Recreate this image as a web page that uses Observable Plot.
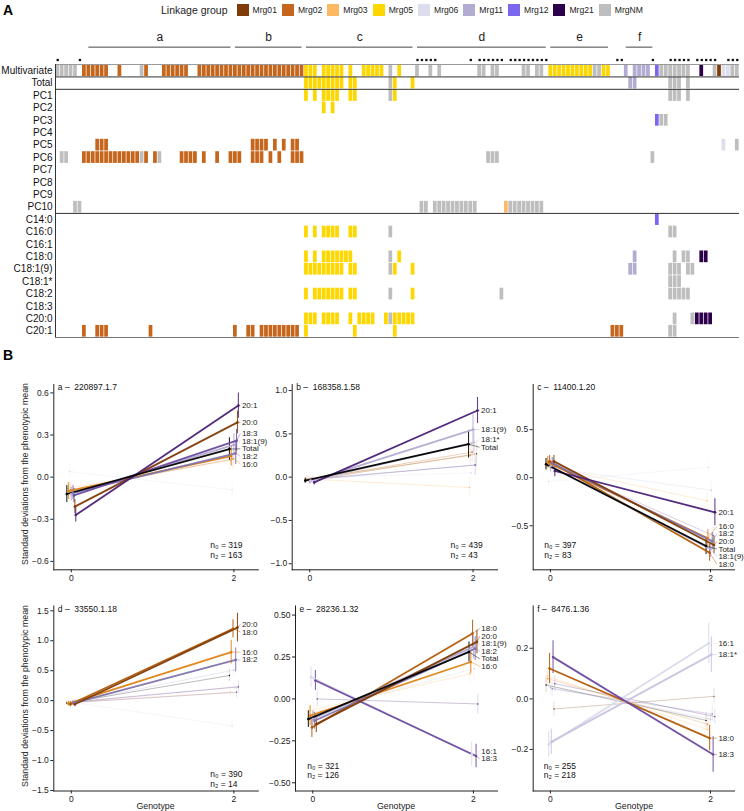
<!DOCTYPE html>
<html><head><meta charset="utf-8">
<script src="https://cdn.jsdelivr.net/npm/d3@7"></script>
<script src="https://cdn.jsdelivr.net/npm/@observablehq/plot@0.6"></script>
<style>
body{margin:0;background:#fff;font-family:"Liberation Sans",Arial,Helvetica,sans-serif;}
#root{position:relative;width:744px;height:811px;overflow:hidden;background:#fff;}
.abs{position:absolute;white-space:nowrap;color:#222;}
</style></head><body><div id="root"></div>
<script>
// ---------- Panel A data ----------
const groups = ["Mrg01","Mrg02","Mrg03","Mrg05","Mrg06","Mrg11","Mrg12","Mrg21","MrgNM"];
const groupColors = ["#7f3b08","#c6661c","#fdb863","#ffd700","#dcdeed","#b2abd2","#7b68ee","#2d004b","#bebebe"];
const rowNames = ["Multivariate","Total","PC1","PC2","PC3","PC4","PC5","PC6","PC7","PC8","PC9","PC10",
  "C14:0","C16:0","C16:1","C18:0","C18:1(9)","C18:1*","C18:2","C18:3","C20:0","C20:1"];
const nCols = 154;
// runs: [first column, last column, linkage group]
const runsMultivariate = [[0,4,"MrgNM"],[6,11,"Mrg02"],[14,14,"Mrg02"],[19,19,"MrgNM"],[20,20,"Mrg02"],[24,29,"Mrg02"],[32,55,"Mrg02"],
  [56,58,"Mrg05"],[60,64,"Mrg05"],[66,66,"Mrg05"],[69,73,"Mrg05"],[75,75,"MrgNM"],[77,77,"Mrg05"],[81,81,"MrgNM"],[84,84,"MrgNM"],[86,86,"MrgNM"],
  [95,96,"MrgNM"],[98,99,"MrgNM"],[105,106,"MrgNM"],[108,109,"MrgNM"],[111,120,"Mrg05"],[121,122,"MrgNM"],[123,124,"Mrg05"],
  [128,128,"Mrg11"],[130,133,"Mrg11"],[135,135,"Mrg12"],[136,142,"MrgNM"],[145,145,"Mrg21"],[148,148,"MrgNM"],[149,149,"Mrg01"],[150,151,"Mrg06"],[152,153,"MrgNM"]];
const runsTotal = [[56,64,"Mrg05"],[66,67,"Mrg05"],[75,75,"MrgNM"],[76,76,"Mrg05"],[80,80,"Mrg05"],[129,130,"Mrg11"],[138,140,"MrgNM"],[142,142,"MrgNM"]];
const runsPC1 = [[56,56,"Mrg05"],[58,58,"Mrg05"],[60,63,"Mrg05"],[66,67,"Mrg05"],[75,75,"MrgNM"],[76,76,"Mrg05"],[138,140,"MrgNM"],[142,142,"MrgNM"]];
const runsPC2 = [[60,60,"Mrg05"],[62,62,"Mrg05"]];
const runsPC3 = [[135,135,"Mrg12"],[136,137,"MrgNM"]];
const runsPC4 = [];
const runsPC5 = [[9,11,"Mrg02"],[44,47,"Mrg02"],[49,49,"Mrg02"],[51,51,"Mrg02"],[53,54,"Mrg02"],[150,150,"Mrg06"],[153,153,"MrgNM"]];
const runsPC6 = [[1,2,"MrgNM"],[6,18,"Mrg02"],[19,19,"MrgNM"],[20,20,"Mrg02"],[22,22,"Mrg02"],[23,23,"MrgNM"],[28,31,"Mrg02"],[33,33,"Mrg02"],
  [36,36,"Mrg02"],[39,41,"Mrg02"],[44,46,"Mrg02"],[48,48,"Mrg02"],[50,50,"Mrg02"],[53,55,"Mrg02"],[97,99,"MrgNM"],[134,134,"MrgNM"]];
const runsPC7 = [];
const runsPC8 = [];
const runsPC9 = [];
const runsPC10 = [[4,5,"MrgNM"],[82,83,"MrgNM"],[85,94,"MrgNM"],[101,101,"Mrg03"],[102,109,"MrgNM"]];
const runsC14_0 = [[135,135,"Mrg12"]];
const runsC16_0 = [[56,56,"Mrg05"],[58,58,"Mrg05"],[60,63,"Mrg05"],[66,67,"Mrg05"],[75,75,"MrgNM"],[138,139,"MrgNM"]];
const runsC16_1 = [];
const runsC18_0 = [[56,56,"Mrg05"],[58,58,"Mrg05"],[60,66,"Mrg05"],[75,75,"MrgNM"],[77,77,"Mrg05"],[130,130,"Mrg11"],[139,139,"MrgNM"],[141,142,"MrgNM"],[145,146,"Mrg21"]];
const runsC18_1_9 = [[56,64,"Mrg05"],[66,67,"Mrg05"],[75,75,"MrgNM"],[76,76,"Mrg05"],[80,80,"Mrg05"],[129,130,"Mrg11"],[138,140,"MrgNM"],[142,143,"MrgNM"]];
const runsC18_1s = [[138,140,"MrgNM"]];
const runsC18_2 = [[56,56,"Mrg05"],[58,64,"Mrg05"],[66,67,"Mrg05"],[75,75,"MrgNM"],[80,80,"Mrg05"],[100,100,"MrgNM"],[138,142,"MrgNM"]];
const runsC18_3 = [];
const runsC20_0 = [[56,58,"Mrg05"],[60,63,"Mrg05"],[66,66,"Mrg05"],[68,71,"Mrg05"],[74,74,"Mrg05"],[75,75,"MrgNM"],[76,80,"Mrg05"],[139,139,"MrgNM"],[143,143,"MrgNM"],[144,147,"Mrg21"]];
const runsC20_1 = [[6,6,"Mrg02"],[9,11,"Mrg02"],[21,21,"Mrg02"],[40,40,"Mrg02"],[43,44,"Mrg02"],[46,54,"Mrg02"],[56,56,"Mrg05"],[67,67,"Mrg05"],[76,76,"Mrg05"],[125,127,"Mrg02"],[138,139,"MrgNM"]];
const dotCols = [0,5,81,82,83,84,85,93,95,96,97,98,99,100,102,103,104,105,106,107,108,109,110,126,127,134,138,139,140,141,142,144,145,146,147,148,151,152,153];
const regionNames = ["a","b","c","d","e","f"];
const regionStart = [7,40,56,81,111,128];
const regionEnd = [39,55,80,110,124,134];

// ---------- Panel B data ----------
const series = ["Total","C14:0","C16:0","C16:1","C18:0","C18:1(9)","C18:1*","C18:2","C18:3","C20:0","C20:1"];
const seriesLabels = ["Total","14:0","16:0","16:1","18:0","18:1(9)","18:1*","18:2","18:3","20:0","20:1"];
const seriesColors = ["#000000","#fdb863","#e08214","#d8daeb","#b35806","#b2abd2","#c9c3e0","#8073ac","#6b4a9e","#7f3b08","#4a1f75"];

const panelA_title = "a –  220897.1.7";
const panelA_n = [319, 163];
const panelA_g0 = [-0.12,-0.08,-0.10,0.04,-0.09,-0.12,-0.10,-0.11,-0.13,-0.21,-0.27];
const panelA_g2 = [0.20,0.12,0.15,-0.09,0.13,0.23,0.17,0.17,0.26,0.39,0.51];
const panelA_se0 = [0.06,0.05,0.06,0.05,0.05,0.05,0.05,0.05,0.05,0.05,0.05];
const panelA_se2 = [0.08,0.07,0.07,0.07,0.07,0.08,0.07,0.08,0.08,0.08,0.09];
const panelA_sig = ["Total","C16:0","C18:1(9)","C18:2","C18:3","C20:0","C20:1"];

const panelB_title = "b –  168358.1.58";
const panelB_n = [439, 43];
const panelB_g0 = [-0.04,-0.02,-0.02,-0.01,-0.03,-0.05,-0.04,-0.03,-0.02,-0.03,-0.06];
const panelB_g2 = [0.38,-0.12,0.25,0.05,0.29,0.55,0.40,0.14,0.14,0.27,0.77];
const panelB_se0 = [0.03,0.03,0.03,0.03,0.03,0.03,0.03,0.03,0.03,0.03,0.03];
const panelB_se2 = [0.16,0.12,0.12,0.12,0.12,0.17,0.15,0.12,0.12,0.12,0.15];
const panelB_sig = ["Total","C18:1(9)","C18:1*","C20:1"];

const panelC_title = "c –  11400.1.20";
const panelC_n = [397, 83];
const panelC_g0 = [0.14,0.12,0.16,-0.04,0.17,0.12,0.10,0.15,0.13,0.17,0.07];
const panelC_g2 = [-0.71,-0.24,-0.63,0.11,-0.78,-0.74,-0.13,-0.66,-0.60,-0.70,-0.36];
const panelC_se0 = [0.06,0.06,0.06,0.06,0.06,0.06,0.06,0.06,0.06,0.06,0.06];
const panelC_se2 = [0.09,0.09,0.09,0.09,0.09,0.09,0.09,0.09,0.09,0.09,0.14];
const panelC_sig = ["Total","C16:0","C18:0","C18:1(9)","C18:2","C20:0","C20:1"];

const panelD_title = "d –  33550.1.18";
const panelD_n = [390, 14];
const panelD_g0 = [-0.04,-0.03,-0.05,-0.02,-0.06,-0.03,-0.02,-0.04,-0.03,-0.06,-0.02];
const panelD_g2 = [0.42,0.14,0.81,-0.42,1.20,0.51,0.23,0.68,0.14,1.22,0.23];
const panelD_se0 = [0.04,0.04,0.04,0.04,0.04,0.04,0.04,0.04,0.04,0.04,0.04];
const panelD_se2 = [0.10,0.10,0.20,0.10,0.15,0.10,0.10,0.20,0.10,0.24,0.10];
const panelD_sig = ["C16:0","C18:0","C18:2","C20:0"];

const panelE_title = "e –  28236.1.32";
const panelE_n = [321, 126];
const panelE_g0 = [-0.12,-0.07,-0.10,0.13,-0.17,-0.12,-0.08,-0.13,0.11,-0.15,0.00];
const panelE_g2 = [0.28,0.15,0.22,-0.33,0.39,0.31,0.18,0.30,-0.34,0.34,-0.03];
const panelE_se0 = [0.05,0.05,0.06,0.06,0.06,0.05,0.05,0.05,0.06,0.05,0.05];
const panelE_se2 = [0.06,0.06,0.07,0.07,0.08,0.07,0.06,0.07,0.07,0.07,0.06];
const panelE_sig = ["Total","C16:0","C16:1","C18:0","C18:1(9)","C18:2","C18:3","C20:0"];

const panelF_title = "f –  8476.1.36";
const panelF_n = [255, 218];
const panelF_g0 = [0.055,0.09,0.08,-0.18,0.12,0.045,-0.17,0.04,0.165,-0.04,0.06];
const panelF_g2 = [-0.085,-0.12,-0.10,0.22,-0.155,-0.08,0.175,-0.06,-0.22,0.01,-0.07];
const panelF_se0 = [0.03,0.03,0.03,0.05,0.06,0.03,0.05,0.03,0.065,0.03,0.03];
const panelF_se2 = [0.03,0.03,0.03,0.08,0.05,0.03,0.07,0.03,0.07,0.03,0.03];
const panelF_sig = ["C16:1","C18:0","C18:1*","C18:3"];

// ---------- helpers ----------
const root = document.getElementById("root");
const FONT = '"Liberation Sans", Arial, Helvetica, sans-serif';
function place(el, left, top) {
  el.style.position = "absolute"; el.style.left = left + "px"; el.style.top = top + "px";
  root.appendChild(el); return el;
}
function label(text, left, top, css) {
  const d = document.createElement("div"); d.className = "abs"; d.textContent = text;
  d.style.cssText += css || ""; place(d, left, top); return d;
}

// ---------- Panel A ----------
label("A", 3, 2, "font-weight:bold;font-size:14px;color:#000;");
const legend = document.createElement("div");
legend.style.cssText = "display:flex;align-items:center;font-size:8.6px;color:#222;font-family:" + FONT;
const lg = document.createElement("span"); lg.textContent = "Linkage group"; lg.style.cssText = "margin-right:9px;font-size:10.5px;"; legend.appendChild(lg);
groups.forEach((g, i) => {
  const sw = document.createElement("span");
  sw.style.cssText = `display:inline-block;width:12px;height:12px;background:${groupColors[i]};margin-right:4px;`;
  const tx = document.createElement("span"); tx.textContent = g; tx.style.marginRight = "5px";
  legend.appendChild(sw); legend.appendChild(tx);
});
place(legend, 161, 4);

const tiles = [];
const runsByRow = [runsMultivariate, runsTotal, runsPC1, runsPC2, runsPC3, runsPC4, runsPC5, runsPC6, runsPC7, runsPC8, runsPC9, runsPC10,
  runsC14_0, runsC16_0, runsC16_1, runsC18_0, runsC18_1_9, runsC18_1s, runsC18_2, runsC18_3, runsC20_0, runsC20_1];
runsByRow.forEach((runs, r) => runs.forEach(([a, b, g]) => { for (let c = a; c <= b; c++) tiles.push({r, c, g}); }));
const regions = regionNames.map((n, i) => ({n, s: regionStart[i], e: regionEnd[i]}));

const plotA = Plot.plot({
  width: 744, height: 345,
  marginLeft: 55, marginRight: 5, marginTop: 64, marginBottom: 8,
  x: {domain: [0, nCols], axis: null},
  y: {domain: [0, rowNames.length], range: [64, 337], ticks: rowNames.map((_, i) => i + 0.5),
      tickFormat: v => rowNames[Math.floor(v)], tickSize: 0, tickPadding: 3, label: null},
  color: {type: "ordinal", domain: groups, range: groupColors},
  style: {background: "transparent", overflow: "visible", fontFamily: FONT, fontSize: "10px", color: "#111"},
  marks: [
    Plot.rect(tiles, {x1: "c", x2: d => d.c + 1, y1: "r", y2: d => d.r + 1, fill: "g", inset: 0.35}),
    Plot.ruleY([0], {stroke: "#999", strokeWidth: 1}),
    Plot.ruleY([1, 2, 12], {stroke: "#333", strokeWidth: 1}),
    Plot.ruleY([rowNames.length], {stroke: "#777", strokeWidth: 1}),
    Plot.ruleX([0], {y1: 0, y2: rowNames.length, stroke: "#333", strokeWidth: 1}),
    Plot.dot(dotCols, {x: d => d + 0.5, frameAnchor: "top", dy: -4.5, r: 1.3, symbol: "square", fill: "#111", stroke: null}),
    Plot.ruleY(regions, {x1: d => d.s + 0.5, x2: d => d.e + 0.5, y: () => -1.4, stroke: "#444", strokeWidth: 1}),
    Plot.text(regions, {x: d => (d.s + d.e + 1) / 2, y: () => -2.2, text: "n", fontSize: 12, fill: "#222"})
  ]
});
place(plotA, 0, 0);

// ---------- Panel B ----------
label("B", 3, 347, "font-weight:bold;font-size:14px;color:#000;");

function panel(cfg) {
  const {left, top, width, height, ml, mr, mt, mb, yDomain, yTicks, fmt, g0, g2, se0, se2, sig, title, n, nLeft, ndx, ndy} = cfg;
  const rows = series.map((s, i) => ({i, s, lab: seriesLabels[i], col: seriesColors[i], v0: g0[i], v2: g2[i], e0: se0[i], e2: se2[i],
    sig: sig.includes(s), dx: (i - 5) * 0.011}));
  const weak = rows.filter(d => !d.sig);
  const strong = [...rows.filter(d => d.sig && d.s !== "Total"), ...rows.filter(d => d.sig && d.s === "Total")];
  const yTop = mt, yBot = height - mb;
  const ypix = v => yBot - (v - yDomain[0]) / (yDomain[1] - yDomain[0]) * (yBot - yTop);
  const yval = p => yDomain[0] + (yBot - p) / (yBot - yTop) * (yDomain[1] - yDomain[0]);
  const labs = strong.map(d => ({...d, p: ypix(d.v2)})).sort((a, b) => a.p - b.p);
  const gapMin = 7.6;
  for (let it = 0; it < 400; it++) {
    for (let k = 1; k < labs.length; k++) {
      const gap = labs[k].p - labs[k - 1].p;
      if (gap < gapMin) { const push = (gapMin - gap) / 2; labs[k].p += push; labs[k - 1].p -= push; }
    }
  }
  labs.forEach(d => d.ly = yval(d.p));
  const p = Plot.plot({
    width, height, marginLeft: ml, marginRight: mr, marginTop: mt, marginBottom: mb,
    x: {domain: [-0.215, 2.3], ticks: [0, 2], tickFormat: d => String(d), tickSize: 3, tickPadding: 2, line: true, label: null},
    y: {domain: yDomain, ticks: yTicks, tickFormat: fmt, tickSize: 3, tickPadding: 2, line: true, label: null},
    style: {background: "transparent", overflow: "visible", fontFamily: FONT, fontSize: "8.5px", color: "#222"},
    marks: [
      // non-significant traits: thin and faint
      Plot.ruleX(weak, {x: d => d.dx, y1: d => d.v0 - d.e0, y2: d => d.v0 + d.e0, stroke: "col", strokeWidth: 0.5, strokeOpacity: 0.3}),
      Plot.ruleX(weak, {x: d => 2 + d.dx, y1: d => d.v2 - d.e2, y2: d => d.v2 + d.e2, stroke: "col", strokeWidth: 0.5, strokeOpacity: 0.3}),
      Plot.link(weak, {x1: d => d.dx, y1: "v0", x2: d => 2 + d.dx, y2: "v2", stroke: "col", strokeWidth: 0.6, strokeOpacity: 0.45}),
      Plot.dot(weak, {x: d => d.dx, y: "v0", r: 0.7, fill: "col", stroke: null}),
      Plot.dot(weak, {x: d => 2 + d.dx, y: "v2", r: 0.7, fill: "col", stroke: null}),
      // significant traits
      Plot.ruleX(strong, {x: d => d.dx, y1: d => d.v0 - d.e0, y2: d => d.v0 + d.e0, stroke: "col", strokeWidth: 1.1, strokeOpacity: 0.85}),
      Plot.ruleX(strong, {x: d => 2 + d.dx, y1: d => d.v2 - d.e2, y2: d => d.v2 + d.e2, stroke: "col", strokeWidth: 1.1, strokeOpacity: 0.85}),
      Plot.link(strong, {x1: d => d.dx, y1: "v0", x2: d => 2 + d.dx, y2: "v2", stroke: "col", strokeWidth: 1.8, strokeOpacity: 0.95}),
      Plot.dot(strong, {x: d => d.dx, y: "v0", r: 1.3, fill: "col", stroke: null}),
      Plot.dot(strong, {x: d => 2 + d.dx, y: "v2", r: 1.3, fill: "col", stroke: null}),
      // labels
      Plot.link(labs, {x1: d => 2 + d.dx, y1: "v2", x2: () => 2.08, y2: "ly", stroke: "col", strokeWidth: 0.5, strokeOpacity: 0.9}),
      Plot.text(labs, {x: () => 2.08, y: "ly", text: "lab", textAnchor: "start", dx: 1.5, fill: "#222", fontSize: 8}),
      Plot.text([title], {frameAnchor: "top-left", dx: 4, dy: 3, lineAnchor: "middle", textAnchor: "start", fill: "#111", fontSize: 8.5}),
      Plot.text([`n₀ = ${n[0]}\nn₂ = ${n[1]}`], {frameAnchor: nLeft ? "bottom-left" : "bottom-right", dx: ndx, dy: ndy,
        textAnchor: "start", lineAnchor: "bottom", lineHeight: 1.15, fill: "#111", fontSize: 8.5})
    ]
  });
  place(p, left, top);
}

const fmt1 = d3.format(".1f");
const fmt2 = d3.format(".2f");
const row1 = {top: 370, height: 215, mt: 14, mb: 15.7};
const row2 = {top: 590, height: 221, mt: 15.5, mb: 20.5};
const col1 = {left: 0, width: 262, ml: 53.3, mr: 4.2};
const col2 = {left: 262, width: 238, ml: 29.7, mr: 3};
const col2e = {left: 262, width: 238, ml: 33, mr: 3};
const col3 = {left: 500, width: 244, ml: 32.7, mr: 10};

panel({...row1, ...col1, yDomain: [-0.66, 0.66], yTicks: [-0.6, -0.3, 0, 0.3, 0.6], fmt: fmt1,
  g0: panelA_g0, g2: panelA_g2, se0: panelA_se0, se2: panelA_se2, sig: panelA_sig, title: panelA_title, n: panelA_n, nLeft: false, ndx: -48, ndy: -12});
panel({...row1, ...col2, yDomain: [-1.07, 1.07], yTicks: [-1, -0.5, 0, 0.5, 1], fmt: fmt1,
  g0: panelB_g0, g2: panelB_g2, se0: panelB_se0, se2: panelB_se2, sig: panelB_sig, title: panelB_title, n: panelB_n, nLeft: false, ndx: -47, ndy: -12});
panel({...row1, ...col3, yDomain: [-0.958, 0.97], yTicks: [-0.5, 0, 0.5], fmt: fmt1,
  g0: panelC_g0, g2: panelC_g2, se0: panelC_se0, se2: panelC_se2, sig: panelC_sig, title: panelC_title, n: panelC_n, nLeft: true, ndx: 11, ndy: -12});
panel({...row2, ...col1, yDomain: [-1.508, 1.58], yTicks: [-1.5, -1, -0.5, 0, 0.5, 1, 1.5], fmt: fmt1,
  g0: panelD_g0, g2: panelD_g2, se0: panelD_se0, se2: panelD_se2, sig: panelD_sig, title: panelD_title, n: panelD_n, nLeft: false, ndx: -48, ndy: -4.5});
panel({...row2, ...col2e, yDomain: [-0.549, 0.554], yTicks: [-0.5, -0.25, 0, 0.25, 0.5], fmt: fmt2,
  g0: panelE_g0, g2: panelE_g2, se0: panelE_se0, se2: panelE_se2, sig: panelE_sig, title: panelE_title, n: panelE_n, nLeft: true, ndx: 11.7, ndy: -12.7});
panel({...row2, ...col3, yDomain: [-0.364, 0.367], yTicks: [-0.2, 0, 0.2], fmt: fmt1,
  g0: panelF_g0, g2: panelF_g2, se0: panelF_se0, se2: panelF_se2, sig: panelF_sig, title: panelF_title, n: panelF_n, nLeft: true, ndx: 10.6, ndy: -12.7});

// axis titles
function ytitle(cx, cy) {
  label("Standard deviations from the phenotypic mean", cx, cy, "font-size:8.8px;transform:translate(-50%,-50%) rotate(-90deg);");
}
ytitle(25, 474);
ytitle(25, 696);
[155.5, 396, 634].forEach(cx => label("Genotype", cx, 806, "font-size:8.8px;transform:translate(-50%,-50%);"));
</script></body></html>
